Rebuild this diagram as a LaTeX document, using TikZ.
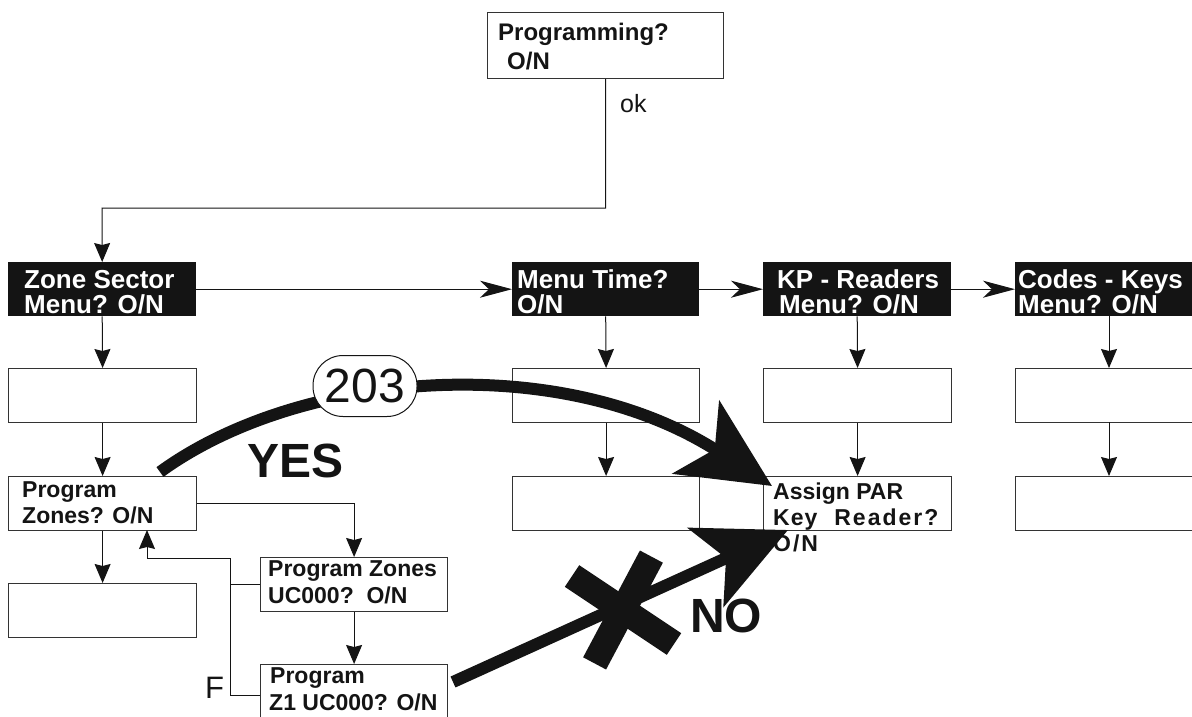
\documentclass[tikz,border=0pt]{standalone}
\usepackage{fontspec}
\setmainfont{Liberation Sans}
\usetikzlibrary{arrows.meta}
\definecolor{ink}{HTML}{141414}
\begin{document}
\begin{tikzpicture}[x=1pt,y=-1pt,
  boxline/.style={draw=black!80,line width=1.2pt},
  wbox/.style={boxline,rectangle,inner sep=0pt,anchor=north west,minimum width=188pt,minimum height=54pt},
  bbox/.style={rectangle,fill=ink,inner sep=0pt,anchor=north west,minimum width=188pt,minimum height=54pt},
  wtxt/.style={inner sep=0pt,anchor=base west,text=ink,font=\fontsize{23}{26}\selectfont\bfseries},
  btxt/.style={inner sep=0pt,anchor=base west,text=white,font=\fontsize{26}{26}\selectfont\bfseries},
  conn/.style={line width=1pt,draw=ink},
  down/.style={conn,-{Stealth[length=19pt,width=16pt,inset=2pt]}},
  right/.style={conn,-{Stealth[length=32pt,width=17pt,inset=9pt]}},
  thick arrow/.style={line width=12pt,draw=ink,-{Stealth[length=90pt,width=86pt,inset=22pt]}},
  bar/.style={line width=26pt,draw=ink},
  bigword/.style={inner sep=0pt,anchor=base west,text=ink,font=\fontsize{48}{48}\selectfont\bfseries}]
\clip (0,0) rectangle (1192,717);

% start box
\node[boxline,rectangle,inner sep=0pt,anchor=north west,minimum width=236pt,minimum height=66pt] (prog) at (487,12) {};
\node[wtxt,font=\fontsize{24}{26}\selectfont\bfseries] (progA) at (498,41) {Programming?};
\node[wtxt,font=\fontsize{24}{26}\selectfont\bfseries] (progB) at (507,70) {O/N};
\node[inner sep=0pt,anchor=base west,text=ink,font=\fontsize{25}{25}\selectfont] (ok) at (620,113) {ok};

% menu headers
\node[bbox] (zs) at (8,262) {};
\node[bbox,minimum width=187pt] (mt) at (512,262) {};
\node[bbox] (kp) at (763,262) {};
\node[bbox,minimum width=200pt] (ck) at (1015,262) {};
\node[btxt] (zsA) at (24,288) {Zone Sector};
\node[btxt] (zsB) at (24,313) {Menu? O/N};
\node[btxt] (mtA) at (517,288) {Menu Time?};
\node[btxt] (mtB) at (517,313) {O/N};
\node[btxt] (kpA) at (777,288) {KP - Readers};
\node[btxt] (kpB) at (779,313) {Menu? O/N};
\node[btxt] (ckA) at (1018,288) {Codes - Keys};
\node[btxt] (ckB) at (1018,313) {Menu? O/N};

% menu columns
\node[wbox] (zs1) at (8,368) {};
\node[wbox] (pz) at (8,476) {};
\node[wbox] (zs3) at (8,583) {};
\node[wbox,minimum width=187pt] (mt1) at (512,368) {};
\node[wbox,minimum width=187pt] (mt2) at (512,476) {};
\node[wbox] (kp1) at (763,368) {};
\node[wbox] (ap) at (763,476) {};
\node[wbox,minimum width=200pt] (ck1) at (1015,368) {};
\node[wbox,minimum width=200pt] (ck2) at (1015,476) {};
\node[wbox,minimum width=187pt] (uc) at (260,557) {};
\node[wbox,minimum width=187pt,minimum height=62pt] (zu) at (260,664) {};

\node[wtxt] (pzA) at (22,497) {Program};
\node[wtxt] (pzB) at (22,523) {Zones? O/N};
\node[wtxt] (ucA) at (268,576) {Program Zones};
\node[wtxt] (ucB) at (268,603) {UC000?\ \ O/N};
\node[wtxt] (zuA) at (270,683) {Program};
\node[wtxt] (zuB) at (269,710) {Z1 UC000? O/N};
\node[wtxt] (apA) at (773,499) {Assign PAR};
\node[wtxt] (apB) at (773,525) {K\kern1pt e\kern1pt y\hspace{17pt}R\kern2pt e\kern2pt a\kern2pt d\kern2pt e\kern2pt r\kern2pt ?};
\node[wtxt] (apC) at (773,551) {O\kern2pt /\kern2pt N};

% thin connectors
\coordinate (turn) at (102,208);
\draw[down] (prog.south) |- (turn) -- (zs.north);
\draw[right] (zs.east) -- (mt.west);
\draw[right] (mt.east) -- (kp.west);
\draw[right] (kp.east) -- (ck.west);
\draw[down] (zs.south) -- (zs1.north);
\draw[down] (zs1.south) -- (pz.north);
\draw[down] (pz.south) -- (zs3.north);
\draw[down] (mt.south) -- (mt1.north);
\draw[down] (mt1.south) -- (mt2.north);
\draw[down] (kp.south) -- (kp1.north);
\draw[down] (kp1.south) -- (ap.north);
\draw[down] (1109,316) -- (ck1.north -| 1109,0);
\draw[down] (1109,422) -- (ck2.north -| 1109,0);
\draw[down] (pz.east) -| (uc.north);
\draw[down] (uc.south) -- (zu.north);

% return path to the zone prompt
\coordinate (j1) at (230,695);
\coordinate (j2) at (230,558);
\coordinate (j3) at (147,558);
\coordinate (pzin) at (147,530);
\draw[conn,-{Stealth[length=19pt,width=16pt,inset=2pt]}] (zu.west |- j1) -- (j1) -- (j2) -- (j3) -- (pzin);
\draw[conn] (uc.west) -- (uc.west -| j1);
\node[inner sep=0pt,anchor=base west,text=ink,font=\fontsize{31}{31}\selectfont] (F) at (205,698) {F};

% shortcut 203
\coordinate (yesA) at (160,472);
\coordinate (yesB) at (772,486);
\draw[thick arrow] (yesA) .. controls (300,370) and (560,350) .. (yesB);
\node[draw=ink,line width=1pt,fill=white,rounded corners=30pt,minimum width=104pt,minimum height=61pt,inner sep=0pt,font=\fontsize{48}{48}\selectfont,text=ink] (n203) at (365,386) {203};
\node[bigword] (yes) at (247,477) {YES};

% forbidden path
\coordinate (noA) at (453,682);
\coordinate (noB) at (788,530);
\draw[thick arrow] (noA) -- (noB);
\coordinate (x1a) at (572,576);
\coordinate (x1b) at (674,644);
\coordinate (x2a) at (594.6,663.4);
\coordinate (x2b) at (651.4,556.6);
\draw[bar] (x1a) -- (x1b);
\draw[bar] (x2a) -- (x2b);
\node[bigword] (no) at (690,632) {NO};
\end{tikzpicture}
\end{document}
